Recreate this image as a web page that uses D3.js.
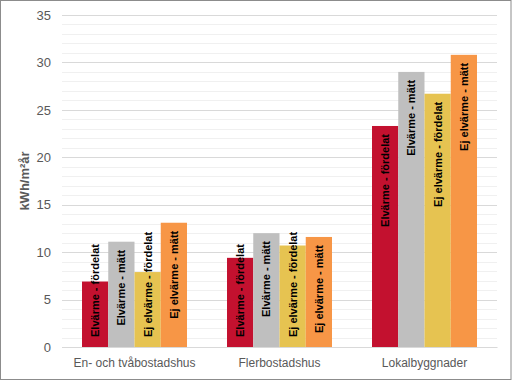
<!DOCTYPE html>
<html><head><meta charset="utf-8">
<script src="https://cdn.jsdelivr.net/npm/d3@7"></script>
<style>body{margin:0;background:#fff}svg{display:block}</style>
</head><body>
<svg id="c" width="512" height="381"></svg>
<script>
const categories = ["En- och tvåbostadshus", "Flerbostadshus", "Lokalbyggnader"];
const seriesNames = ["Elvärme - fördelat", "Elvärme - mätt", "Ej elvärme - fördelat", "Ej elvärme - mätt"];
const elvarmeFordelat = [6.9, 9.4, 23.3];
const elvarmeMatt = [11.1, 12.0, 29.0];
const ejElvarmeFordelat = [7.9, 10.7, 26.7];
const ejElvarmeMatt = [13.1, 11.6, 30.8];
const colors = ["#c3112f", "#bfbfbf", "#e6c351", "#f79646"];
const yTicks = [0, 5, 10, 15, 20, 25, 30, 35];
const yTitle = "kWh/m²år";

const series = [elvarmeFordelat, elvarmeMatt, ejElvarmeFordelat, ejElvarmeMatt];
const svg = d3.select("#c");
const W = 512, H = 381;
const m = {l: 62, r: 15, t: 15, b: 34};
const x0 = d3.scaleBand().domain(categories).range([m.l, W - m.r]).paddingInner(0.276).paddingOuter(0.138);
const x1 = d3.scaleBand().domain(seriesNames).range([0, x0.bandwidth()]);
const y = d3.scaleLinear().domain([0, 35]).range([H - m.b, m.t]);

svg.append("rect").attr("x", 0.5).attr("y", 0.5).attr("width", W - 1.5).attr("height", H - 2).attr("fill", "#fff").attr("stroke", "#8c8c8c");

// minor gridlines
svg.append("g").selectAll("line").data(d3.range(0, 36, 1).filter(v => v % 5 !== 0)).join("line")
  .attr("x1", m.l).attr("x2", W - m.r).attr("y1", d => Math.round(y(d)) + 0.5).attr("y2", d => Math.round(y(d)) + 0.5)
  .attr("stroke", "#f0f0f0");
// major gridlines
svg.append("g").selectAll("line").data(yTicks).join("line")
  .attr("x1", m.l).attr("x2", W - m.r).attr("y1", d => Math.round(y(d)) + 0.5).attr("y2", d => Math.round(y(d)) + 0.5)
  .attr("stroke", "#d9d9d9");

const yAxis = svg.append("g").attr("transform", `translate(${m.l - 11},0)`)
  .call(d3.axisLeft(y).tickValues(yTicks).tickSize(0).tickPadding(0));
yAxis.select(".domain").remove();
yAxis.selectAll("text").attr("fill", "#595959").style("font-family", "'Liberation Sans', Arial, sans-serif").style("font-size", "13px");

const xAxis = svg.append("g").attr("transform", `translate(0,${H - m.b})`)
  .call(d3.axisBottom(x0).tickSize(0).tickPadding(11));
xAxis.select(".domain").attr("stroke", "#d9d9d9");
xAxis.selectAll("text").attr("fill", "#595959").style("font-family", "'Liberation Sans', Arial, sans-serif").style("font-size", "12px");

const axisY = y(0);
categories.forEach((cat, ci) => {
  const g = svg.append("g").attr("transform", `translate(${x0(cat)},0)`);
  seriesNames.forEach((s, si) => {
    const v = series[si][ci];
    const bx = x1(s), bw = x1.bandwidth();
    g.append("rect").attr("x", bx).attr("y", y(v)).attr("width", bw).attr("height", axisY - y(v)).attr("fill", colors[si]);
    const t = g.append("text").text(s)
      .attr("text-anchor", "end").attr("dominant-baseline", "central")
      .style("font-family", "'Liberation Sans', Arial, sans-serif")
      .style("font-weight", "bold").style("font-size", "11px").attr("fill", "#000");
    const len = t.node().getComputedTextLength();
    let top = y(v) + 8;
    if (top + len > axisY - 10) top = axisY - 10 - len;
    const cx = bx + bw / 2;
    t.attr("transform", `translate(${cx},${top}) rotate(-90)`);
  });
});

svg.append("text").text(yTitle)
  .attr("transform", `translate(24,${(m.t + H - m.b) / 2}) rotate(-90)`)
  .attr("text-anchor", "middle").attr("dominant-baseline", "central")
  .attr("fill", "#595959").style("font-family", "'Liberation Sans', Arial, sans-serif").style("font-weight", "bold").style("font-size", "13px");
</script>
</body></html>
